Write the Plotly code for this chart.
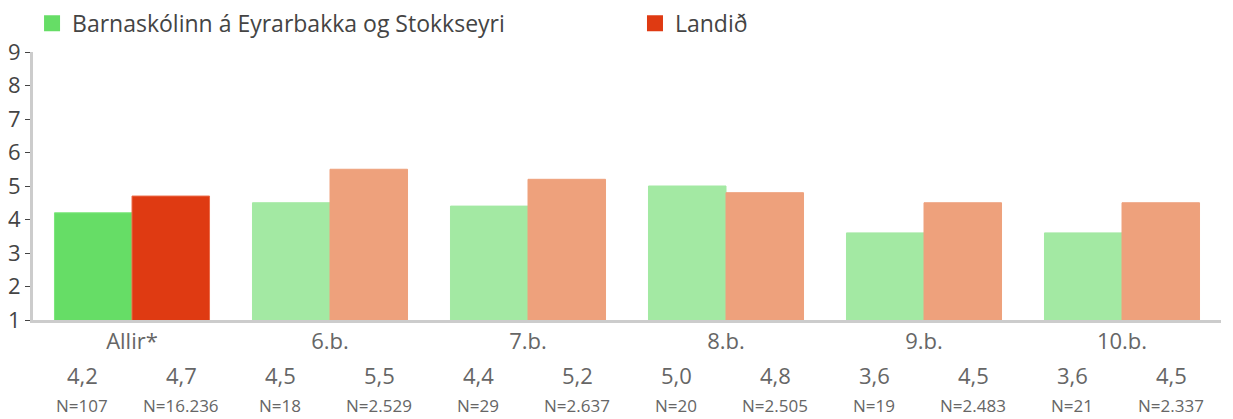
import plotly.graph_objects as go

categories = ["Allir*", "6.b.", "7.b.", "8.b.", "9.b.", "10.b."]
school_values = [4.2, 4.5, 4.4, 5.0, 3.6, 3.6]
country_values = [4.7, 5.5, 5.2, 4.8, 4.5, 4.5]
school_n = ["N=107", "N=18", "N=29", "N=20", "N=19", "N=21"]
country_n = ["N=16.236", "N=2.529", "N=2.637", "N=2.505", "N=2.483", "N=2.337"]
series_names = ["Barnaskólinn á Eyrarbakka og Stokkseyri", "Landið"]
y_ticks = [1, 2, 3, 4, 5, 6, 7, 8, 9]

FONT = "Open Sans"
green_main, green_light = "#66DD66", "#A3E9A3"
red_main, red_light = "#DF3A12", "#EEA17C"

school_colors = [green_main] + [green_light] * (len(categories) - 1)
country_colors = [red_main] + [red_light] * (len(categories) - 1)
school_lines = ["#7BE67B"] + [green_light] * (len(categories) - 1)
country_lines = ["#EC6A48"] + [red_light] * (len(categories) - 1)

fig = go.Figure()
fig.add_trace(go.Bar(
    x=categories, y=school_values, name=series_names[0], showlegend=False,
    marker=dict(color=school_colors, line=dict(color=school_lines, width=1)),
    hoverinfo="skip",
))
fig.add_trace(go.Bar(
    x=categories, y=country_values, name=series_names[1], showlegend=False,
    marker=dict(color=country_colors, line=dict(color=country_lines, width=1)),
    hoverinfo="skip",
))
# legend entries (larger square swatches, as in the reference)
fig.add_trace(go.Scatter(x=[None], y=[None], mode="markers", name=series_names[0],
                         marker=dict(symbol="square", size=16, color=green_main),
                         legend="legend", showlegend=True, hoverinfo="skip"))
fig.add_trace(go.Scatter(x=[None], y=[None], mode="markers", name=series_names[1],
                         marker=dict(symbol="square", size=16, color=red_main),
                         legend="legend2", showlegend=True, hoverinfo="skip"))


def fmt(v):
    return f"{v:.1f}".replace(".", ",")


for cat, sv, cv, sn, cn in zip(categories, school_values, country_values, school_n, country_n):
    for val, n, shift in ((sv, sn, -50), (cv, cn, 49)):
        fig.add_annotation(x=cat, xref="x", y=0, yref="paper", yshift=-55, xshift=shift,
                           text=fmt(val), showarrow=False, yanchor="middle",
                           font=dict(family=FONT, size=22, color="#666666"))
        fig.add_annotation(x=cat, xref="x", y=0, yref="paper", yshift=-85, xshift=shift,
                           text=n, showarrow=False, yanchor="middle",
                           font=dict(family=FONT, size=17, color="#666666"))

legend_common = dict(orientation="h", y=1.107, xref="container", yref="paper",
                     xanchor="left", yanchor="middle",
                     font=dict(family=FONT, size=23, color="#444444"),
                     itemclick=False, itemdoubleclick=False, itemwidth=30)

fig.update_layout(
    width=1233, height=419,
    margin=dict(l=25, r=20, t=44, b=107, autoexpand=False),
    paper_bgcolor="white", plot_bgcolor="white",
    barmode="group", bargap=0.217, bargroupgap=0,
    font=dict(family=FONT, color="#444444"),
    legend=dict(x=0.0195, **legend_common),
    legend2=dict(x=0.5085, **legend_common),
    showlegend=True,
)
fig.update_xaxes(
    showline=True, linecolor="#CCCCCC", linewidth=3,
    ticks="", tickfont=dict(family=FONT, size=22, color="#666666"),
    showgrid=False, fixedrange=True,
)
fig.update_yaxes(
    range=[1, 9], tickvals=y_ticks, showline=True, linecolor="#CCCCCC", linewidth=3,
    ticks="outside", ticklen=5, tickcolor="#444444", tickwidth=1,
    tickfont=dict(family=FONT, size=22, color="#444444"),
    showgrid=False, zeroline=False, fixedrange=True,
)

fig.write_html("out.html")
